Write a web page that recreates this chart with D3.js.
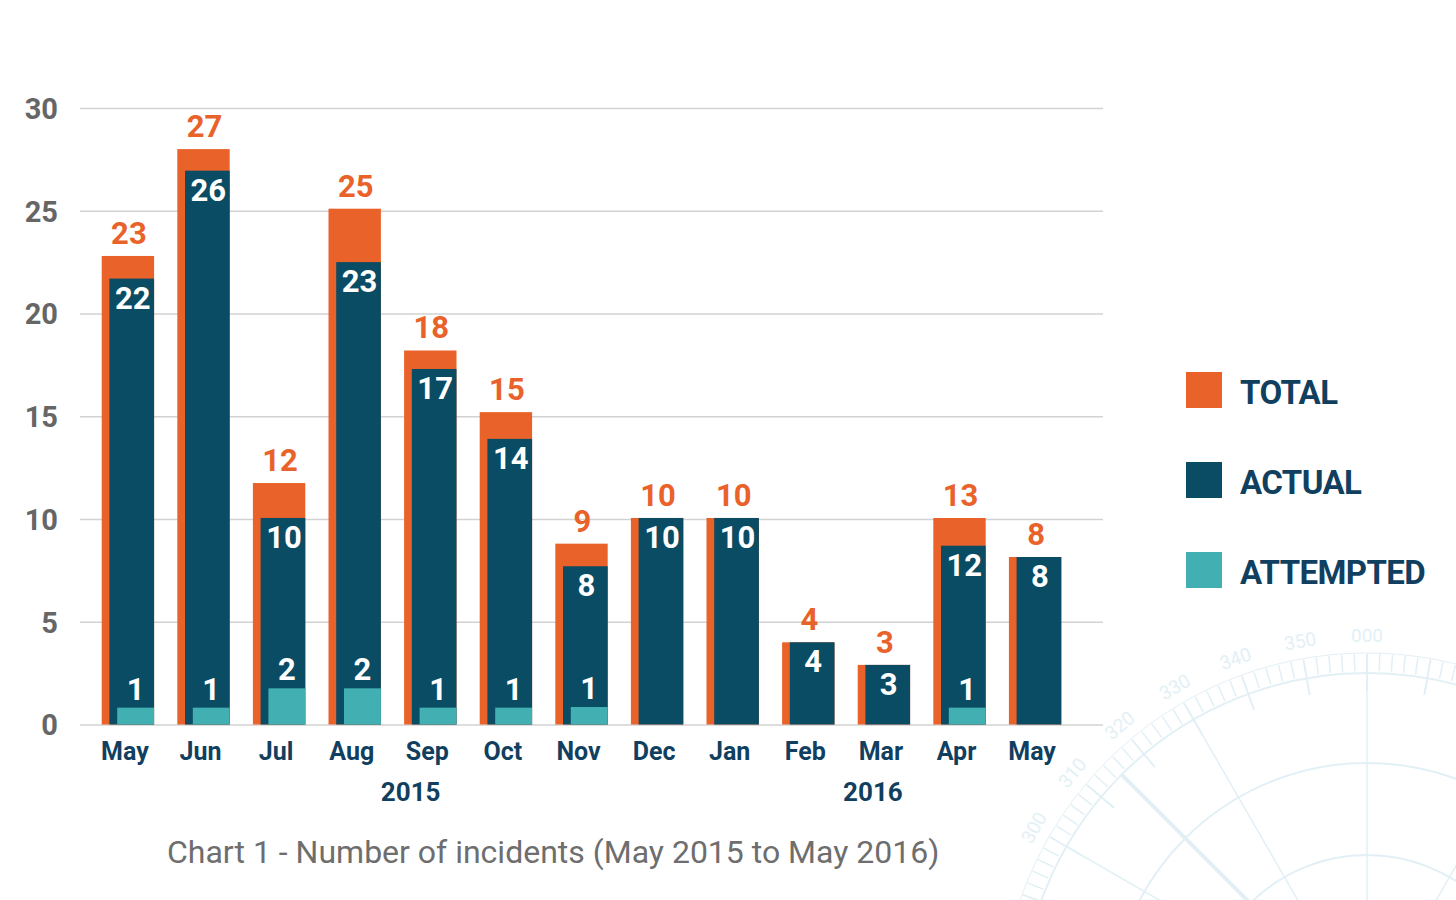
<!DOCTYPE html>
<html>
<head>
<meta charset="utf-8">
<script src="https://cdn.jsdelivr.net/npm/d3@7"></script>
<style>
  body { margin: 0; background: #fff; }
  svg text { font-family: Roboto, "DejaVu Sans", sans-serif; }
</style>
</head>
<body>
<div id="chart"></div>
<script>
// data
var months = ["May", "Jun", "Jul", "Aug", "Sep", "Oct", "Nov", "Dec", "Jan", "Feb", "Mar", "Apr", "May"];
var years = ["2015", "2016"];
// printed labels
var totalLabels = [23, 27, 12, 25, 18, 15, 9, 10, 10, 4, 3, 13, 8];
var actualLabels = [22, 26, 10, 23, 17, 14, 8, 10, 10, 4, 3, 12, 8];
var attemptedLabels = [1, 1, 2, 2, 1, 1, 1, null, null, null, null, 1, null];
// bar heights as drawn (they don't always agree with the labels)
var totalBars = [22.8, 28.0, 11.75, 25.1, 18.2, 15.2, 8.8, 10.05, 10.05, 4.0, 2.9, 10.05, 8.15];
var actualBars = [21.7, 26.95, 10.05, 22.5, 17.3, 13.9, 7.7, 10.05, 10.05, 4.0, 2.9, 8.7, 8.15];
var attemptedBars = [0.82, 0.82, 1.76, 1.76, 0.82, 0.82, 0.85, 0, 0, 0, 0, 0.82, 0];
var yTicks = [0, 5, 10, 15, 20, 25, 30];
var legendItems = ["TOTAL", "ACTUAL", "ATTEMPTED"];

var orange = "#e9622a",
    navy = "#0a4c64",
    teal = "#42b0b3",
    textNavy = "#113f60",
    grey = "#666666";

var width = 1456, height = 900;

var svg = d3.select("#chart").append("svg")
    .attr("width", width)
    .attr("height", height);

// faint compass rose in the corner
var cx = 1367, cy = 1020;
var compass = svg.append("g")
    .attr("transform", "translate(" + cx + "," + cy + ")")
    .style("stroke", "#e2f0f6")
    .style("fill", "none");
[367, 347, 257, 165].forEach(function(r) {
    compass.append("circle").attr("r", r).attr("stroke-width", r == 367 ? 1 : 2);
});
d3.range(0, 360, 2).forEach(function(a) {
    var t = (a - 90) * Math.PI / 180;
    var r0 = a % 10 == 0 ? 330 : 349;
    compass.append("line")
        .attr("x1", r0 * Math.cos(t)).attr("y1", r0 * Math.sin(t))
        .attr("x2", 366 * Math.cos(t)).attr("y2", 366 * Math.sin(t))
        .attr("stroke-width", a % 10 == 0 ? 2 : 1.5);
});
d3.range(0, 360, 30).forEach(function(a) {
    var t = (a - 90) * Math.PI / 180;
    compass.append("line")
        .attr("x1", 0).attr("y1", 0)
        .attr("x2", 347 * Math.cos(t)).attr("y2", 347 * Math.sin(t))
        .attr("stroke-width", 1.5);
});
var t315 = (315 - 90) * Math.PI / 180;
compass.append("line")
    .attr("x1", 0).attr("y1", 0)
    .attr("x2", 347 * Math.cos(t315)).attr("y2", 347 * Math.sin(t315))
    .attr("stroke-width", 4);
// only the bearing labels that sit inside the page
d3.range(0, 360, 10).filter(function(a) {
    var t = (a - 90) * Math.PI / 180;
    var px = cx + 378 * Math.cos(t), py = cy + 378 * Math.sin(t);
    return px > 0 && px < width - 24 && py < height - 14;
}).forEach(function(a) {
    compass.append("text")
        .attr("transform", "rotate(" + a + ") translate(0,-378)")
        .attr("text-anchor", "middle")
        .style("fill", "#e3f0f6").style("stroke", "none")
        .style("font-size", "19px")
        .text(d3.format("03d")(a));
});

var x = d3.scaleBand()
    .domain(d3.range(months.length))
    .range([101.7, 1061.3])
    .paddingInner(0.307)
    .paddingOuter(0);

var y = d3.scaleLinear()
    .domain([0, 30])
    .range([724.5, 108]);

var bw = x.bandwidth();

// y axis with gridlines
var yAxis = svg.append("g")
    .attr("transform", "translate(80,0)")
    .call(d3.axisLeft(y).tickValues(yTicks).tickSize(-(1103 - 80)).tickPadding(22));
yAxis.select(".domain").remove();
yAxis.selectAll("line").attr("stroke", "#d2d2d2").attr("stroke-width", 1.6);
yAxis.selectAll("text")
    .style("font-size", "29px")
    .style("font-weight", "bold")
    .style("fill", grey)
    .attr("dy", "0.36em");

var bars = svg.append("g");

bars.selectAll(".total")
    .data(totalBars)
    .join("rect")
    .attr("x", (d, i) => x(i))
    .attr("y", d => y(d))
    .attr("width", bw)
    .attr("height", d => y(0) - y(d))
    .style("fill", orange);

bars.selectAll(".actual")
    .data(actualBars)
    .join("rect")
    .attr("x", (d, i) => x(i) + 7.7)
    .attr("y", d => y(d))
    .attr("width", bw - 7.7)
    .attr("height", d => y(0) - y(d))
    .style("fill", navy);

bars.selectAll(".attempted")
    .data(attemptedBars)
    .join("rect")
    .attr("x", (d, i) => x(i) + 15.5)
    .attr("y", d => y(d))
    .attr("width", bw - 15.5)
    .attr("height", d => y(0) - y(d))
    .style("fill", teal);

// value labels
var labels = svg.append("g")
    .style("font-weight", "bold")
    .attr("text-anchor", "middle");

labels.selectAll(".lt")
    .data(totalLabels)
    .join("text")
    .attr("x", (d, i) => x(i) + bw / 2 + 1)
    .attr("y", (d, i) => y(totalBars[i]) - 12)
    .style("font-size", "31px")
    .style("fill", orange)
    .text(d => d);

labels.selectAll(".la")
    .data(actualLabels)
    .join("text")
    .attr("x", (d, i) => x(i) + 7.7 + (bw - 7.7) / 2 + 1)
    .attr("y", (d, i) => y(actualBars[i]) + 30)
    .style("font-size", "31px")
    .style("fill", "#fff")
    .text(d => d);

labels.selectAll(".lm")
    .data(attemptedLabels)
    .join("text")
    .attr("x", (d, i) => x(i) + 15.5 + (bw - 15.5) / 2)
    .attr("y", (d, i) => y(attemptedBars[i]) - 8)
    .style("font-size", "31px")
    .style("fill", "#fff")
    .text(d => d == null ? "" : d);

// month + year labels
var xl = svg.append("g")
    .style("font-weight", "bold")
    .style("fill", textNavy)
    .attr("text-anchor", "middle");
xl.selectAll(".m")
    .data(months)
    .join("text")
    .attr("x", (d, i) => x(i) + bw / 2 - 3)
    .attr("y", 760)
    .style("font-size", "25px")
    .text(d => d);
xl.selectAll(".yr")
    .data(years)
    .join("text")
    .attr("x", (d, i) => i == 0 ? x(3) + bw / 2 + 56 : x(10) + bw / 2 - 11)
    .attr("y", 801)
    .style("font-size", "26px")
    .text(d => d);

// legend
var legend = svg.append("g");
legend.selectAll("rect")
    .data(legendItems)
    .join("rect")
    .attr("x", 1186)
    .attr("y", (d, i) => 372 + i * 90)
    .attr("width", 36)
    .attr("height", 36)
    .style("fill", (d, i) => [orange, navy, teal][i]);
legend.selectAll("text")
    .data(legendItems)
    .join("text")
    .attr("x", 1240)
    .attr("y", (d, i) => 404 + i * 90)
    .style("font-size", "33px")
    .style("font-weight", "bold")
    .style("letter-spacing", "-0.6px")
    .style("fill", textNavy)
    .text(d => d);

// caption
svg.append("text")
    .attr("x", 167)
    .attr("y", 863)
    .style("font-size", "32px")
    .style("fill", "#6e6e6e")
    .text("Chart 1 - Number of incidents (May 2015 to May 2016)");
</script>
</body>
</html>
